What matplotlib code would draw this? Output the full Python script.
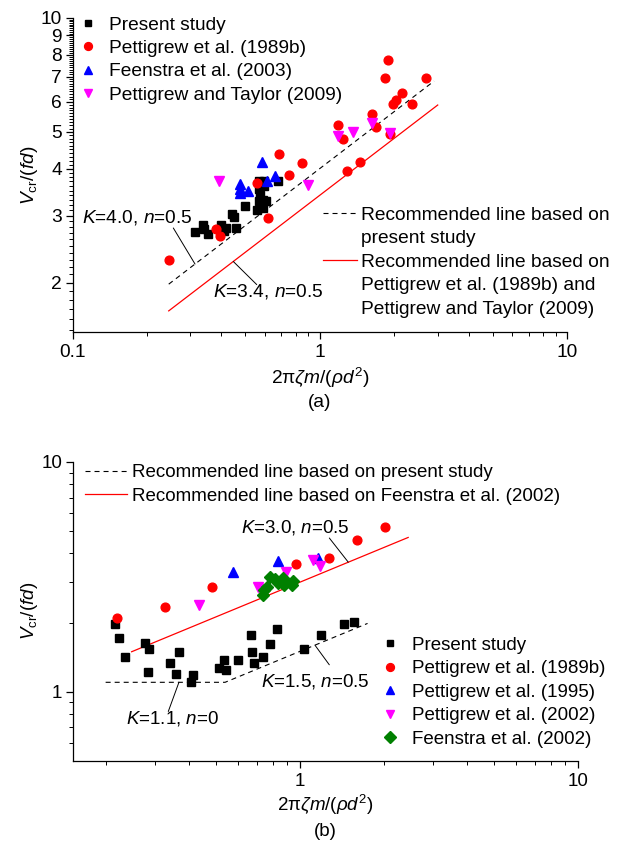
import numpy as np
import matplotlib
matplotlib.use('Agg')
import matplotlib.pyplot as plt
from matplotlib.lines import Line2D
from matplotlib.ticker import FixedLocator, NullFormatter, FixedFormatter

plt.rcParams['font.family'] = ['Liberation Sans', 'DejaVu Sans']
plt.rcParams['mathtext.fontset'] = 'custom'
plt.rcParams['mathtext.rm'] = 'Liberation Sans'
plt.rcParams['mathtext.it'] = 'Liberation Sans:italic'
plt.rcParams['mathtext.bf'] = 'Liberation Sans:bold'
plt.rcParams['lines.scale_dashes'] = False
FS = 13.8    # panel (a) text size
FSB = 13.5   # panel (b) text size

# ---------------- data: panel (a) ----------------
a_present_x = [0.313, 0.337, 0.339, 0.352, 0.399, 0.411, 0.419, 0.460, 0.440, 0.449,
               0.497, 0.555, 0.582, 0.589, 0.568, 0.572, 0.568, 0.597, 0.568, 0.593,
               0.678, 0.604, 0.589]
a_present_y = [2.72, 2.84, 2.77, 2.69, 2.84, 2.74, 2.78, 2.79, 3.03, 2.98,
               3.19, 3.10, 3.18, 3.31, 3.28, 3.41, 3.54, 3.59, 3.71, 3.71,
               3.70, 3.29, 3.14]
a_pett89_x = [0.245, 0.379, 0.396, 0.555, 0.620, 0.687, 0.751, 0.846, 1.186, 1.24,
              1.29, 1.45, 1.63, 1.69, 1.93, 1.88, 1.84, 2.69, 2.16, 2.04, 1.98, 2.37]
a_pett89_y = [2.29, 2.77, 2.65, 3.66, 2.96, 4.38, 3.84, 4.13, 5.23, 4.80,
              3.95, 4.17, 5.59, 5.14, 4.95, 7.75, 6.96, 6.93, 6.35, 6.08, 5.93, 5.92]
a_feen03_x = [0.584, 0.474, 0.474, 0.474, 0.514, 0.612, 0.658]
a_feen03_y = [4.17, 3.65, 3.54, 3.44, 3.50, 3.71, 3.82]
a_pt09_x = [0.390, 0.897, 1.19, 1.36, 1.63, 1.92]
a_pt09_y = [3.71, 3.63, 4.88, 5.00, 5.27, 4.98]

# recommended lines (K, n, x-range)
a_line_present = (4.0, 0.5, [0.245, 2.9])
a_line_pett = (3.4, 0.5, [0.245, 3.0])

# ---------------- data: panel (b) ----------------
b_present_x = [0.216, 0.223, 0.235, 0.278, 0.287, 0.285, 0.341, 0.368, 0.358, 0.413,
               0.406, 0.513, 0.532, 0.542, 0.597, 0.668, 0.670, 0.683, 0.734, 0.780,
               0.829, 1.036, 1.19, 1.44, 1.57]
b_present_y = [1.98, 1.72, 1.42, 1.63, 1.53, 1.22, 1.33, 1.49, 1.19, 1.18,
               1.10, 1.27, 1.37, 1.25, 1.37, 1.77, 1.49, 1.34, 1.42, 1.61,
               1.88, 1.54, 1.77, 1.97, 2.01]
b_pett89_x = [0.219, 0.328, 0.484, 0.967, 1.27, 1.61, 2.02]
b_pett89_y = [2.09, 2.33, 2.85, 3.60, 3.81, 4.58, 5.23]
b_pett95_x = [0.573, 0.831, 1.158]
b_pett95_y = [3.32, 3.71, 3.84]
b_pett02_x = [0.434, 0.704, 0.891, 1.11, 1.18]
b_pett02_y = [2.39, 2.85, 3.32, 3.75, 3.51]
b_feen02_x = [0.734, 0.759, 0.780, 0.813, 0.836, 0.866, 0.876, 0.946, 0.934, 0.742]
b_feen02_y = [2.64, 2.87, 3.17, 3.10, 2.97, 3.12, 2.92, 3.05, 2.92, 2.76]

b_line_flat = (1.1, 0.0)
b_line_present = (1.5, 0.5, 1.75)
b_line_feen = (3.0, 0.5, [0.248, 2.45])

# ---------------- figure ----------------
W, H = 621, 841
fig = plt.figure(figsize=(W / 100, H / 100), dpi=100)


def fx(px):
    return px / W


def fy(py):
    return 1 - py / H


ax1 = fig.add_axes([fx(72.5), fy(332), (567 - 72.5) / W, (332 - 18) / H])
ax2 = fig.add_axes([fx(72.5), fy(761), (578 - 72.5) / W, (761 - 462) / H])

DASH = (0, (3.6, 2.9))
RED = '#ff0000'
mk = dict(ls='none')


def style_axes(ax, fs):
    ax.set_xscale('log')
    ax.set_yscale('log')
    for s in ['top', 'right']:
        ax.spines[s].set_visible(False)
    for s in ['left', 'bottom']:
        ax.spines[s].set_linewidth(0.9)
    ax.tick_params(which='major', direction='out', length=5, width=0.9,
                   labelsize=fs, pad=2.5)
    ax.tick_params(which='minor', direction='out', length=3, width=0.7)
    ax.tick_params(axis='x', which='major', pad=4)


# ---- panel (a)
ax = ax1
style_axes(ax, FS)
ax.set_xlim(0.1, 10)
ax.set_ylim(1.48, 10)
K, n, xr = a_line_present
xr = np.array(xr)
ax.plot(xr, K * xr ** n, color='black', lw=0.8, ls=DASH, zorder=2)
K, n, xr = a_line_pett
xr = np.array(xr)
ax.plot(xr, K * xr ** n, color=RED, lw=0.9, zorder=2)

h1, = ax.plot(a_present_x, a_present_y, marker='s', ms=5.5, color='black', label='Present study', **mk)
h2, = ax.plot(a_pett89_x, a_pett89_y, marker='o', ms=6.3, color=RED, label='Pettigrew et al. (1989b)', **mk)
h3, = ax.plot(a_feen03_x, a_feen03_y, marker='^', ms=7, color='#0000ff', label='Feenstra et al. (2003)', **mk)
h4, = ax.plot(a_pt09_x, a_pt09_y, marker='v', ms=7, color='#ff00ff', label='Pettigrew and Taylor (2009)', **mk)

ax.xaxis.set_major_locator(FixedLocator([0.1, 1, 10]))
ax.xaxis.set_major_formatter(FixedFormatter(['0.1', '1', '10']))
ax.xaxis.set_minor_locator(FixedLocator([0.2, 0.3, 0.4, 0.5, 0.6, 0.7, 0.8, 0.9,
                                         2, 3, 4, 5, 6, 7, 8, 9]))
ax.xaxis.set_minor_formatter(NullFormatter())
ymaj = [2, 3, 4, 5, 6, 7, 8, 9, 10]
ax.yaxis.set_major_locator(FixedLocator(ymaj))
ax.yaxis.set_major_formatter(FixedFormatter([str(v) for v in ymaj]))
ymin = [round(v, 1) for v in np.arange(1.5, 10.0, 0.1) if abs(v - round(v)) > 1e-6]
ax.yaxis.set_minor_locator(FixedLocator(ymin))
ax.yaxis.set_minor_formatter(NullFormatter())

leg = ax.legend(handles=[h1, h2, h3, h4], loc='upper left',
                bbox_to_anchor=(fx(78.4), fy(16.1)), bbox_transform=fig.transFigure,
                frameon=False, fontsize=FS, borderpad=0, borderaxespad=0,
                handlelength=1.0, handletextpad=0.61, labelspacing=0.31,
                markerscale=0.9)
ax.add_artist(leg)

blank = Line2D([], [], color='none')
lh = [Line2D([], [], color='black', lw=0.8, ls=DASH), blank,
      Line2D([], [], color=RED, lw=0.9), blank, blank]
ll = ['Recommended line based on', 'present study', 'Recommended line based on',
      'Pettigrew et al. (1989b) and', 'Pettigrew and Taylor (2009)']
leg2 = ax.legend(handles=lh, labels=ll, loc='upper left',
                 bbox_to_anchor=(fx(322.7), fy(206.7)), bbox_transform=fig.transFigure,
                 frameon=False, fontsize=FS, borderpad=0, borderaxespad=0,
                 handlelength=1.77, handletextpad=0.22, labelspacing=0.31)

ax.text(0.183, 2.97, '$K$=4.0, $n$=0.5', fontsize=FS, ha='center', va='center')
ax.annotate('', xy=(0.313, 4.0 * 0.313 ** 0.5), xytext=(0.2557, 2.787),
            arrowprops=dict(arrowstyle='-', lw=0.7, color='black', shrinkA=0, shrinkB=0))
ax.text(0.620, 1.896, '$K$=3.4, $n$=0.5', fontsize=FS, ha='center', va='center')
ax.annotate('', xy=(0.447, 3.4 * 0.447 ** 0.5), xytext=(0.556, 1.975),
            arrowprops=dict(arrowstyle='-', lw=0.7, color='black', shrinkA=0, shrinkB=0))

# ---- panel (b)
ax = ax2
style_axes(ax, FSB)
ax.set_xlim(0.152, 10)
ax.set_ylim(0.5, 10)
Kf, nf = b_line_flat
Kp, np_, xend = b_line_present
xb = (Kf / Kp) ** (1 / np_)
xs = np.array([0.2, xb, xend])
ys = np.where(xs <= xb, Kf * xs ** nf, Kp * xs ** np_)
ax.plot(xs, ys, color='black', lw=0.8, ls=DASH, zorder=2)
K, n, xr = b_line_feen
xr = np.array(xr)
ax.plot(xr, K * xr ** n, color=RED, lw=0.9, zorder=2)

g1, = ax.plot(b_present_x, b_present_y, marker='s', ms=5.5, color='black', label='Present study', **mk)
g2, = ax.plot(b_pett89_x, b_pett89_y, marker='o', ms=6.3, color=RED, label='Pettigrew et al. (1989b)', **mk)
g3, = ax.plot(b_pett95_x, b_pett95_y, marker='^', ms=7, color='#0000ff', label='Pettigrew et al. (1995)', **mk)
g4, = ax.plot(b_pett02_x, b_pett02_y, marker='v', ms=7, color='#ff00ff', label='Pettigrew et al. (2002)', **mk)
g5, = ax.plot(b_feen02_x, b_feen02_y, marker='D', ms=6.3, color='#008000', label='Feenstra et al. (2002)', **mk)

ax.xaxis.set_major_locator(FixedLocator([1, 10]))
ax.xaxis.set_major_formatter(FixedFormatter(['1', '10']))
ax.xaxis.set_minor_locator(FixedLocator([0.2, 0.3, 0.4, 0.5, 0.6, 0.7, 0.8, 0.9,
                                         2, 3, 4, 5, 6, 7, 8, 9]))
ax.xaxis.set_minor_formatter(NullFormatter())
ax.yaxis.set_major_locator(FixedLocator([1, 10]))
ax.yaxis.set_major_formatter(FixedFormatter(['1', '10']))
ax.yaxis.set_minor_locator(FixedLocator([0.6, 0.7, 0.8, 0.9, 2, 3, 4, 5, 6, 7, 8, 9]))
ax.yaxis.set_minor_formatter(NullFormatter())

leg3 = ax.legend(handles=[g1, g2, g3, g4, g5], loc='upper left',
                 bbox_to_anchor=(fx(380.6), fy(636.8)), bbox_transform=fig.transFigure,
                 frameon=False, fontsize=FSB, borderpad=0, borderaxespad=0,
                 handlelength=1.0, handletextpad=0.66, labelspacing=0.337,
                 markerscale=0.9)
ax.add_artist(leg3)
lh2 = [Line2D([], [], color='black', lw=0.8, ls=DASH), Line2D([], [], color=RED, lw=0.9)]
ll2 = ['Recommended line based on present study',
       'Recommended line based on Feenstra et al. (2002)']
ax.legend(handles=lh2, labels=ll2, loc='upper left',
          bbox_to_anchor=(fx(85), fy(464.2)), bbox_transform=fig.transFigure,
          frameon=False, fontsize=FSB, borderpad=0, borderaxespad=0,
          handlelength=2.24, handletextpad=0.29, labelspacing=0.337)

ax.text(0.963, 5.17, '$K$=3.0, $n$=0.5', fontsize=FSB, ha='center', va='center')
ax.annotate('', xy=(1.492, 3.0 * 1.492 ** 0.5), xytext=(1.275, 4.67),
            arrowprops=dict(arrowstyle='-', lw=0.7, color='black', shrinkA=0, shrinkB=0))
ax.text(1.132, 1.109, '$K$=1.5, $n$=0.5', fontsize=FSB, ha='center', va='center')
ax.annotate('', xy=(1.132, 1.5 * 1.132 ** 0.5), xytext=(1.275, 1.311),
            arrowprops=dict(arrowstyle='-', lw=0.7, color='black', shrinkA=0, shrinkB=0))
ax.text(0.348, 0.763, '$K$=1.1, $n$=0', fontsize=FSB, ha='center', va='center')
ax.annotate('', xy=(0.367, 1.1), xytext=(0.336, 0.821),
            arrowprops=dict(arrowstyle='-', lw=0.7, color='black', shrinkA=0, shrinkB=0))

# ---- axis titles
xlab = '2π$\\zeta m$/($\\rho d^{2}$)'
ylab = '$V_{\\mathrm{cr}}$/($fd$)'
fig.text(fx(320), fy(384), xlab, fontsize=FS, ha='center', va='baseline')
fig.text(fx(320), fy(407), '(a)', fontsize=FS, ha='center', va='baseline')
fig.text(fx(325), fy(811), xlab, fontsize=FSB, ha='center', va='baseline')
fig.text(fx(325), fy(836), '(b)', fontsize=FSB, ha='center', va='baseline')
fig.text(fx(29), fy(175), ylab, fontsize=FS, ha='center', va='center', rotation=90)
fig.text(fx(29), fy(611), ylab, fontsize=FSB, ha='center', va='center', rotation=90)

fig.savefig('out.png', dpi=100)
